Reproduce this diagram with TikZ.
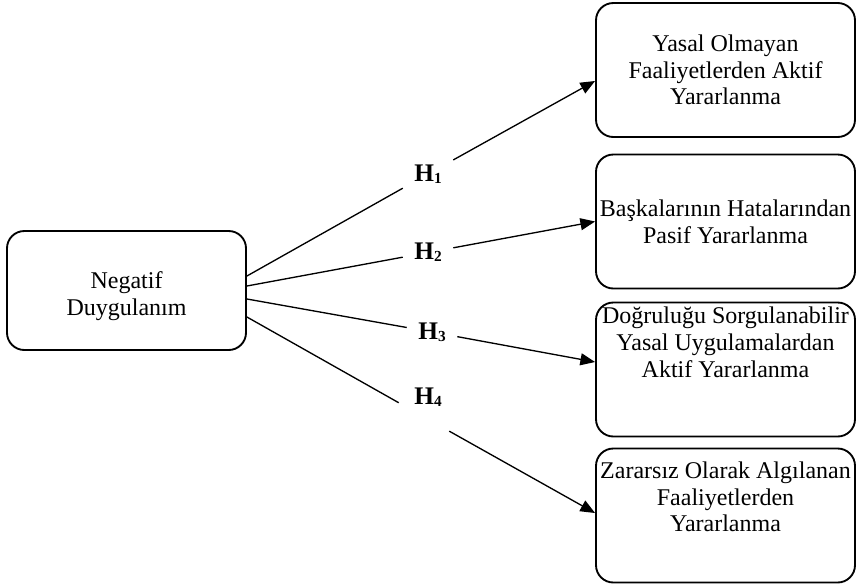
\documentclass[tikz,border=0pt]{standalone}
\usepackage{fontspec}
\setmainfont{Liberation Serif}
\usepackage{tikz}
\usetikzlibrary{calc,arrows.meta,positioning}
\newcommand{\hlab}[1]{\fontsize{19}{22}\selectfont\bfseries H\raisebox{-1.5pt}{\fontsize{11.5}{12}\selectfont #1}}
\tikzset{
  ar/.style={-{Triangle[length=11pt,width=9pt]},line width=1pt},
  ln/.style={line width=1pt},
  box/.style={draw,line width=1.4pt,rounded corners=13pt,align=center,inner sep=0pt,font=\fontsize{18}{20}\selectfont},
  rbox/.style={box,minimum width=194.25pt,minimum height=100.5pt},
  gap/.style={inner sep=0pt,minimum width=37.5pt,minimum height=22.5pt},
  txt/.style={align=center,inner sep=0pt,font=\fontsize{18}{20}\selectfont}
}

\begin{document}
\begin{tikzpicture}[x=0.75pt,y=-0.75pt]
\useasboundingbox (0,0) rectangle (857,586);
\node[box,minimum width=179.25pt,minimum height=89.25pt] (neg) at (126.5,290.5) {};
\node[txt,below=31pt of neg.north] (t0) {Negatif\\Duygulanım};
\node[rbox] (b1) at (725.5,70) {Yasal Olmayan\\Faaliyetlerden Aktif\\Yararlanma};
\node[rbox] (b2) at (725.5,221.5) {Başkalarının Hatalarından\\Pasif Yararlanma};
\node[rbox] (b3) at (725.5,369.5) {};
\node[txt,below=4pt of b3.north] (t3) {Doğruluğu Sorgulanabilir\\Yasal Uygulamalardan\\Aktif Yararlanma};
\node[rbox] (b4) at (725.5,515.5) {};
\node[txt,below=10.5pt of b4.north] (t4) {Zararsız Olarak Algılanan\\Faaliyetlerden\\Yararlanma};
\node[gap] (h1) at (428,174) {\hlab{1}};
\node[gap] (h2) at (428,252.5) {\hlab{2}};
\node[gap] (h3) at (432,332) {\hlab{3}};
\node[gap] (g4) at (424,417) {};
\node (h4) at (428,397) {\hlab{4}};
\draw[ln] ($(neg.east)+(0,-14.5)$) -- (h1);
\draw[ar] (h1) -- ($(b1.west)+(0,11)$);
\draw[ln] ($(neg.east)+(0,-4.5)$) -- (h2);
\draw[ar] (h2) -- (b2.west);
\draw[ln] ($(neg.east)+(0,8.5)$) -- (h3);
\draw[ar] (h3) -- ($(b3.west)+(0,-7.5)$);
\draw[ln] ($(neg.east)+(0,26.5)$) -- (g4);
\draw[ar] (g4) -- ($(b4.west)+(0,-2.5)$);
\end{tikzpicture}
\end{document}
